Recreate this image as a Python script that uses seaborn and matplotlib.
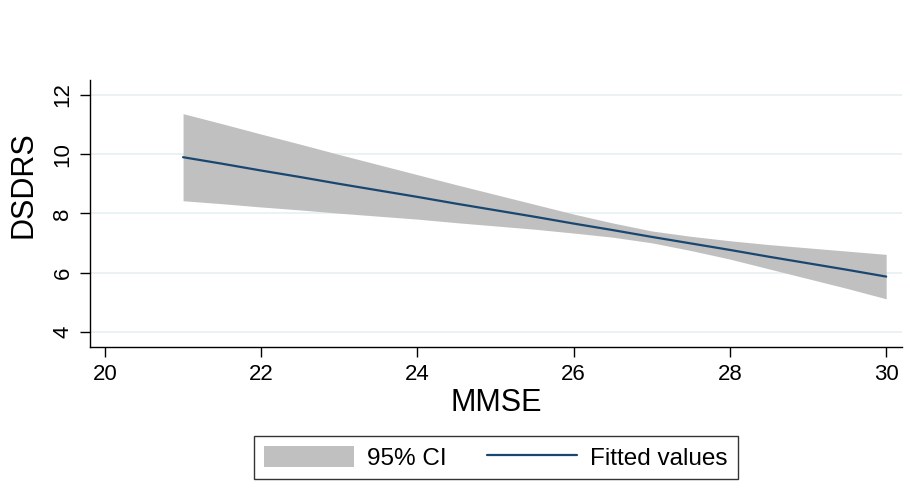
# Linear fit with 95% CI: DSDRS vs MMSE

import matplotlib
matplotlib.use("Agg")
import matplotlib.pyplot as plt
import seaborn as sns
import pandas as pd
from matplotlib.patches import Patch
from matplotlib.lines import Line2D

mmse = [21.0, 21.5, 22.0, 22.5, 23.0, 23.5, 24.0, 24.5, 25.0, 25.5,
        26.0, 26.5, 27.0, 27.5, 28.0, 28.5, 29.0, 29.5, 30.0]
fitted = [9.90, 9.68, 9.45, 9.23, 9.00, 8.78, 8.56, 8.33, 8.11, 7.89,
          7.66, 7.44, 7.21, 6.99, 6.77, 6.54, 6.32, 6.10, 5.87]
ci_upper = [11.37, 11.03, 10.68, 10.34, 9.99, 9.65, 9.31, 8.97, 8.64, 8.31,
            7.98, 7.68, 7.41, 7.23, 7.08, 6.95, 6.84, 6.73, 6.62]
ci_lower = [8.43, 8.33, 8.22, 8.12, 8.01, 7.91, 7.81, 7.69, 7.58, 7.47,
            7.34, 7.20, 7.01, 6.75, 6.46, 6.13, 5.80, 5.47, 5.12]

x_ticks = [20, 22, 24, 26, 28, 30]
y_ticks = [4, 6, 8, 10, 12]

df = pd.DataFrame({"MMSE": mmse, "fit": fitted, "lo": ci_lower, "hi": ci_upper})

sns.set_style("white")
plt.rcParams['font.family'] = ['Liberation Sans', 'DejaVu Sans']
plt.rcParams['text.color'] = 'black'
plt.rcParams['axes.labelcolor'] = 'black'
plt.rcParams['xtick.color'] = 'black'
plt.rcParams['ytick.color'] = 'black'

navy = "#1a476f"
ci_gray = "#c0c0c0"

fig = plt.figure(figsize=(9.1, 4.98), dpi=100)
ax = fig.add_axes([0.099, 0.303, 0.892, 0.536])

ax.fill_between(df["MMSE"], df["lo"], df["hi"], color=ci_gray, linewidth=0, zorder=2)
sns.lineplot(data=df, x="MMSE", y="fit", color=navy, linewidth=1.6, ax=ax, zorder=3)

ax.set_xlim(19.81, 30.2)
ax.set_ylim(3.49, 12.5)
ax.set_xticks(x_ticks)
ax.set_yticks(y_ticks)
ax.set_yticklabels([str(t) for t in y_ticks], rotation=90, va="center")

ax.grid(axis="y", color="#eaf2f3", linewidth=1.4, zorder=0)
ax.grid(axis="x", visible=False)
ax.set_axisbelow(True)

for side in ["top", "right"]:
    ax.spines[side].set_visible(False)
for side in ["left", "bottom"]:
    ax.spines[side].set_color("black")
    ax.spines[side].set_linewidth(1.0)

ax.tick_params(axis="both", which="major", direction="out", length=7, width=1,
               labelsize=16, bottom=True, left=True, pad=5)
ax.set_xlabel("MMSE", fontsize=22, labelpad=2)
ax.set_ylabel("DSDRS", fontsize=22)
# Stata puts the y title a bit above the middle of the axis
ax.yaxis.set_label_coords(-0.063, 0.61)

handles = [Patch(facecolor=ci_gray, edgecolor="none", label="95% CI"),
           Line2D([0], [0], color=navy, linewidth=1.6, label="Fitted values")]
leg = fig.legend(handles=handles, loc="center", bbox_to_anchor=(0.545, 0.081),
                 ncol=2, fontsize=17.5, frameon=True, fancybox=False,
                 handlelength=3.7, handleheight=0.95, handletextpad=0.55,
                 columnspacing=1.65, borderpad=0.4, borderaxespad=0)
leg.get_frame().set_edgecolor("black")
leg.get_frame().set_linewidth(1.0)

plt.savefig("out.png", dpi=100)
